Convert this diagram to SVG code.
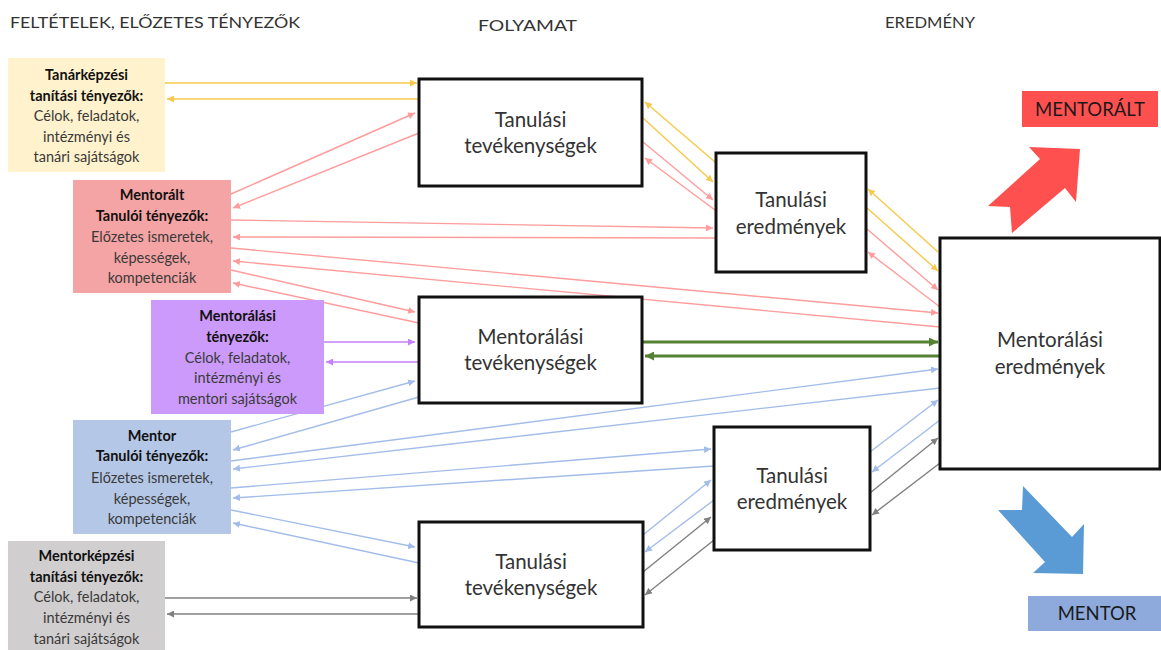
<svg xmlns="http://www.w3.org/2000/svg" width="1161" height="650" viewBox="0 0 1161 650">
  <defs>
    <style>
      .hdr { font-family: Lato, "Liberation Sans", sans-serif; font-size: 15px; fill: #333; }
      .lt { font-family: Lato, "Liberation Sans", sans-serif; font-size: 14.5px; fill: #3a3a3a; text-anchor: middle; }
      .lt .b { font-weight: bold; fill: #111; }
      .ct { font-family: Lato, "Liberation Sans", sans-serif; font-size: 20.5px; fill: #333; text-anchor: middle; }
      .box { stroke: #111; stroke-width: 3; fill: #fff; }
      .ln { fill: none; stroke-width: 1.4; }
      .y { stroke: #F7C948; }
      .p { stroke: #FF9C9C; }
      .u { stroke: #C680FF; }
      .g { stroke: #548235; stroke-width: 3; }
      .bl { stroke: #A3BDEA; }
      .gr { stroke: #808080; }
      .tag { font-family: Lato, "Liberation Sans", sans-serif; font-size: 18.5px; fill: #1a1a1a; text-anchor: middle; }
    </style>
    <marker id="mY" viewBox="0 0 8 8" refX="8" refY="4" markerWidth="7" markerHeight="7" markerUnits="userSpaceOnUse" orient="auto"><path d="M0,0 L8,4 L0,8 z" fill="#F7C948"/></marker>
    <marker id="mP" viewBox="0 0 8 8" refX="8" refY="4" markerWidth="7" markerHeight="7" markerUnits="userSpaceOnUse" orient="auto"><path d="M0,0 L8,4 L0,8 z" fill="#FF9C9C"/></marker>
    <marker id="mU" viewBox="0 0 8 8" refX="8" refY="4" markerWidth="7" markerHeight="7" markerUnits="userSpaceOnUse" orient="auto"><path d="M0,0 L8,4 L0,8 z" fill="#C680FF"/></marker>
    <marker id="mG" viewBox="0 0 8 8" refX="8" refY="4" markerWidth="9" markerHeight="9" markerUnits="userSpaceOnUse" orient="auto"><path d="M0,0 L8,4 L0,8 z" fill="#548235"/></marker>
    <marker id="mB" viewBox="0 0 8 8" refX="8" refY="4" markerWidth="7" markerHeight="7" markerUnits="userSpaceOnUse" orient="auto"><path d="M0,0 L8,4 L0,8 z" fill="#A3BDEA"/></marker>
    <marker id="mR" viewBox="0 0 8 8" refX="8" refY="4" markerWidth="7" markerHeight="7" markerUnits="userSpaceOnUse" orient="auto"><path d="M0,0 L8,4 L0,8 z" fill="#808080"/></marker>
  </defs>

  <rect width="1161" height="650" fill="#fff"/>

  <!-- column headings -->
  <g id="headers">
    <text class="hdr" x="10" y="28" textLength="290" lengthAdjust="spacingAndGlyphs">FELTÉTELEK, ELŐZETES TÉNYEZŐK</text>
    <text class="hdr" x="478" y="31" textLength="99" lengthAdjust="spacingAndGlyphs">FOLYAMAT</text>
    <text class="hdr" x="885" y="28" textLength="90" lengthAdjust="spacingAndGlyphs">EREDMÉNY</text>
  </g>

  <!-- connectors (drawn beneath the boxes) -->
  <g id="connectors">
    <!-- yellow: teacher training factors -->
    <line class="ln y" x1="165" y1="83" x2="417" y2="83" marker-end="url(#mY)"/>
    <line class="ln y" x1="419" y1="99" x2="167" y2="99" marker-end="url(#mY)"/>
    <line class="ln y" x1="715" y1="162" x2="645" y2="102" marker-end="url(#mY)"/>
    <line class="ln y" x1="643" y1="118" x2="713" y2="182" marker-end="url(#mY)"/>
    <line class="ln y" x1="938" y1="252" x2="868" y2="189" marker-end="url(#mY)"/>
    <line class="ln y" x1="867" y1="208" x2="938" y2="271" marker-end="url(#mY)"/>

    <!-- pink: mentee factors -->
    <line class="ln p" x1="231" y1="194" x2="415" y2="113" marker-end="url(#mP)"/>
    <line class="ln p" x1="419" y1="133" x2="233" y2="208" marker-end="url(#mP)"/>
    <line class="ln p" x1="231" y1="220" x2="713" y2="228" marker-end="url(#mP)"/>
    <line class="ln p" x1="716" y1="238" x2="233" y2="237" marker-end="url(#mP)"/>
    <line class="ln p" x1="231" y1="248" x2="938" y2="313" marker-end="url(#mP)"/>
    <line class="ln p" x1="940" y1="327" x2="233" y2="261" marker-end="url(#mP)"/>
    <line class="ln p" x1="231" y1="270" x2="415" y2="312" marker-end="url(#mP)"/>
    <line class="ln p" x1="419" y1="323" x2="233" y2="283" marker-end="url(#mP)"/>
    <line class="ln p" x1="643" y1="142" x2="713" y2="200" marker-end="url(#mP)"/>
    <line class="ln p" x1="715" y1="210" x2="645" y2="158" marker-end="url(#mP)"/>
    <line class="ln p" x1="867" y1="229" x2="938" y2="290" marker-end="url(#mP)"/>
    <line class="ln p" x1="940" y1="307" x2="868" y2="252" marker-end="url(#mP)"/>

    <!-- purple: mentoring factors -->
    <line class="ln u" x1="324" y1="342" x2="415" y2="342" marker-end="url(#mU)"/>
    <line class="ln u" x1="419" y1="362" x2="326" y2="362" marker-end="url(#mU)"/>

    <!-- green: mentoring activities -->
    <line class="ln g" x1="643" y1="342" x2="938" y2="342" marker-end="url(#mG)"/>
    <line class="ln g" x1="940" y1="356" x2="645" y2="356" marker-end="url(#mG)"/>

    <!-- blue: mentor factors -->
    <line class="ln bl" x1="231" y1="432" x2="415" y2="381" marker-end="url(#mB)"/>
    <line class="ln bl" x1="419" y1="397" x2="233" y2="450" marker-end="url(#mB)"/>
    <line class="ln bl" x1="231" y1="461" x2="938" y2="369" marker-end="url(#mB)"/>
    <line class="ln bl" x1="940" y1="388" x2="233" y2="469" marker-end="url(#mB)"/>
    <line class="ln bl" x1="231" y1="488" x2="711" y2="449" marker-end="url(#mB)"/>
    <line class="ln bl" x1="714" y1="466" x2="233" y2="498" marker-end="url(#mB)"/>
    <line class="ln bl" x1="231" y1="510" x2="415" y2="547" marker-end="url(#mB)"/>
    <line class="ln bl" x1="419" y1="563" x2="233" y2="523" marker-end="url(#mB)"/>
    <line class="ln bl" x1="643" y1="535" x2="711" y2="480" marker-end="url(#mB)"/>
    <line class="ln bl" x1="714" y1="500" x2="645" y2="552" marker-end="url(#mB)"/>
    <line class="ln bl" x1="870" y1="452" x2="938" y2="400" marker-end="url(#mB)"/>
    <line class="ln bl" x1="940" y1="420" x2="872" y2="472" marker-end="url(#mB)"/>

    <!-- grey: mentor training factors -->
    <line class="ln gr" x1="165" y1="598" x2="417" y2="598" marker-end="url(#mR)"/>
    <line class="ln gr" x1="419" y1="614" x2="167" y2="614" marker-end="url(#mR)"/>
    <line class="ln gr" x1="643" y1="572" x2="711" y2="517" marker-end="url(#mR)"/>
    <line class="ln gr" x1="714" y1="540" x2="645" y2="595" marker-end="url(#mR)"/>
    <line class="ln gr" x1="870" y1="493" x2="938" y2="438" marker-end="url(#mR)"/>
    <line class="ln gr" x1="940" y1="463" x2="872" y2="515" marker-end="url(#mR)"/>
  </g>

  <!-- left column: preconditions -->
  <g id="tanarkepzesi">
    <rect x="8" y="58" width="157" height="114" fill="#FFF2CC"/>
    <text class="lt"><tspan class="b" x="86.5" y="80">Tanárképzési</tspan><tspan class="b" x="86.5" y="101">tanítási tényezők:</tspan><tspan x="86.5" y="121">Célok, feladatok,</tspan><tspan x="86.5" y="142">intézményi és</tspan><tspan x="86.5" y="162">tanári sajátságok</tspan></text>
  </g>
  <g id="mentoralt-tenyezok">
    <rect x="73" y="180" width="158" height="113" fill="#F4A4A4"/>
    <text class="lt"><tspan class="b" x="152" y="200">Mentorált</tspan><tspan class="b" x="152" y="221">Tanulói tényezők:</tspan><tspan x="152" y="242">Előzetes ismeretek,</tspan><tspan x="152" y="263">képességek,</tspan><tspan x="152" y="283">kompetenciák</tspan></text>
  </g>
  <g id="mentoralasi-tenyezok">
    <rect x="151" y="300" width="173" height="114" fill="#CC9AFA"/>
    <text class="lt"><tspan class="b" x="237.5" y="321">Mentorálási</tspan><tspan class="b" x="237.5" y="342">tényezők:</tspan><tspan x="237.5" y="363">Célok, feladatok,</tspan><tspan x="237.5" y="383">intézményi és</tspan><tspan x="237.5" y="404">mentori sajátságok</tspan></text>
  </g>
  <g id="mentor-tenyezok">
    <rect x="73" y="420" width="158" height="114" fill="#B4C7E7"/>
    <text class="lt"><tspan class="b" x="152" y="441">Mentor</tspan><tspan class="b" x="152" y="461">Tanulói tényezők:</tspan><tspan x="152" y="483">Előzetes ismeretek,</tspan><tspan x="152" y="504">képességek,</tspan><tspan x="152" y="524">kompetenciák</tspan></text>
  </g>
  <g id="mentorkepzesi">
    <rect x="8" y="541" width="157" height="109" fill="#D0CECE"/>
    <text class="lt"><tspan class="b" x="86.5" y="561">Mentorképzési</tspan><tspan class="b" x="86.5" y="582">tanítási tényezők:</tspan><tspan x="86.5" y="602">Célok, feladatok,</tspan><tspan x="86.5" y="623">intézményi és</tspan><tspan x="86.5" y="644">tanári sajátságok</tspan></text>
  </g>

  <!-- middle column: process -->
  <g id="tanulasi-tev-felso">
    <rect class="box" x="419" y="79" width="223" height="107"/>
    <text class="ct"><tspan x="530.5" y="127">Tanulási</tspan><tspan x="530.5" y="153">tevékenységek</tspan></text>
  </g>
  <g id="tanulasi-ered-felso">
    <rect class="box" x="716" y="153" width="150" height="119"/>
    <text class="ct"><tspan x="791" y="207">Tanulási</tspan><tspan x="791" y="234">eredmények</tspan></text>
  </g>
  <g id="mentoralasi-tev">
    <rect class="box" x="419" y="297" width="223" height="106" fill="#C5E0B4"/>
    <text class="ct"><tspan x="530.5" y="344">Mentorálási</tspan><tspan x="530.5" y="370">tevékenységek</tspan></text>
  </g>
  <g id="tanulasi-ered-also">
    <rect class="box" x="714" y="427" width="156" height="123"/>
    <text class="ct"><tspan x="792" y="483">Tanulási</tspan><tspan x="792" y="509">eredmények</tspan></text>
  </g>
  <g id="tanulasi-tev-also">
    <rect class="box" x="419" y="522" width="224" height="105"/>
    <text class="ct"><tspan x="531" y="569">Tanulási</tspan><tspan x="531" y="595">tevékenységek</tspan></text>
  </g>

  <!-- right column: outcomes -->
  <g id="mentoralasi-eredmenyek">
    <rect class="box" x="940" y="238" width="220" height="231" stroke-width="2.5"/>
    <text class="ct"><tspan x="1050" y="347">Mentorálási</tspan><tspan x="1050" y="374">eredmények</tspan></text>
  </g>
  <g id="mentoralt">
    <polygon points="1080,149 1076,202 1065,188 1012,233 1010,207 988,206 1040,159 1029,147" fill="#FF5050"/>
    <rect x="1022" y="91" width="136" height="36" fill="#FF5050"/>
    <text class="tag" x="1090" y="116">MENTORÁLT</text>
  </g>
  <g id="mentor">
    <polygon points="1023,486 1072,537 1084,524 1083,574 1033,573 1045,562 998,510 1022,510" fill="#5B9BD5"/>
    <rect x="1028" y="596" width="133" height="35" fill="#8EA9DB"/>
    <text class="tag" x="1097" y="620">MENTOR</text>
  </g>
</svg>
